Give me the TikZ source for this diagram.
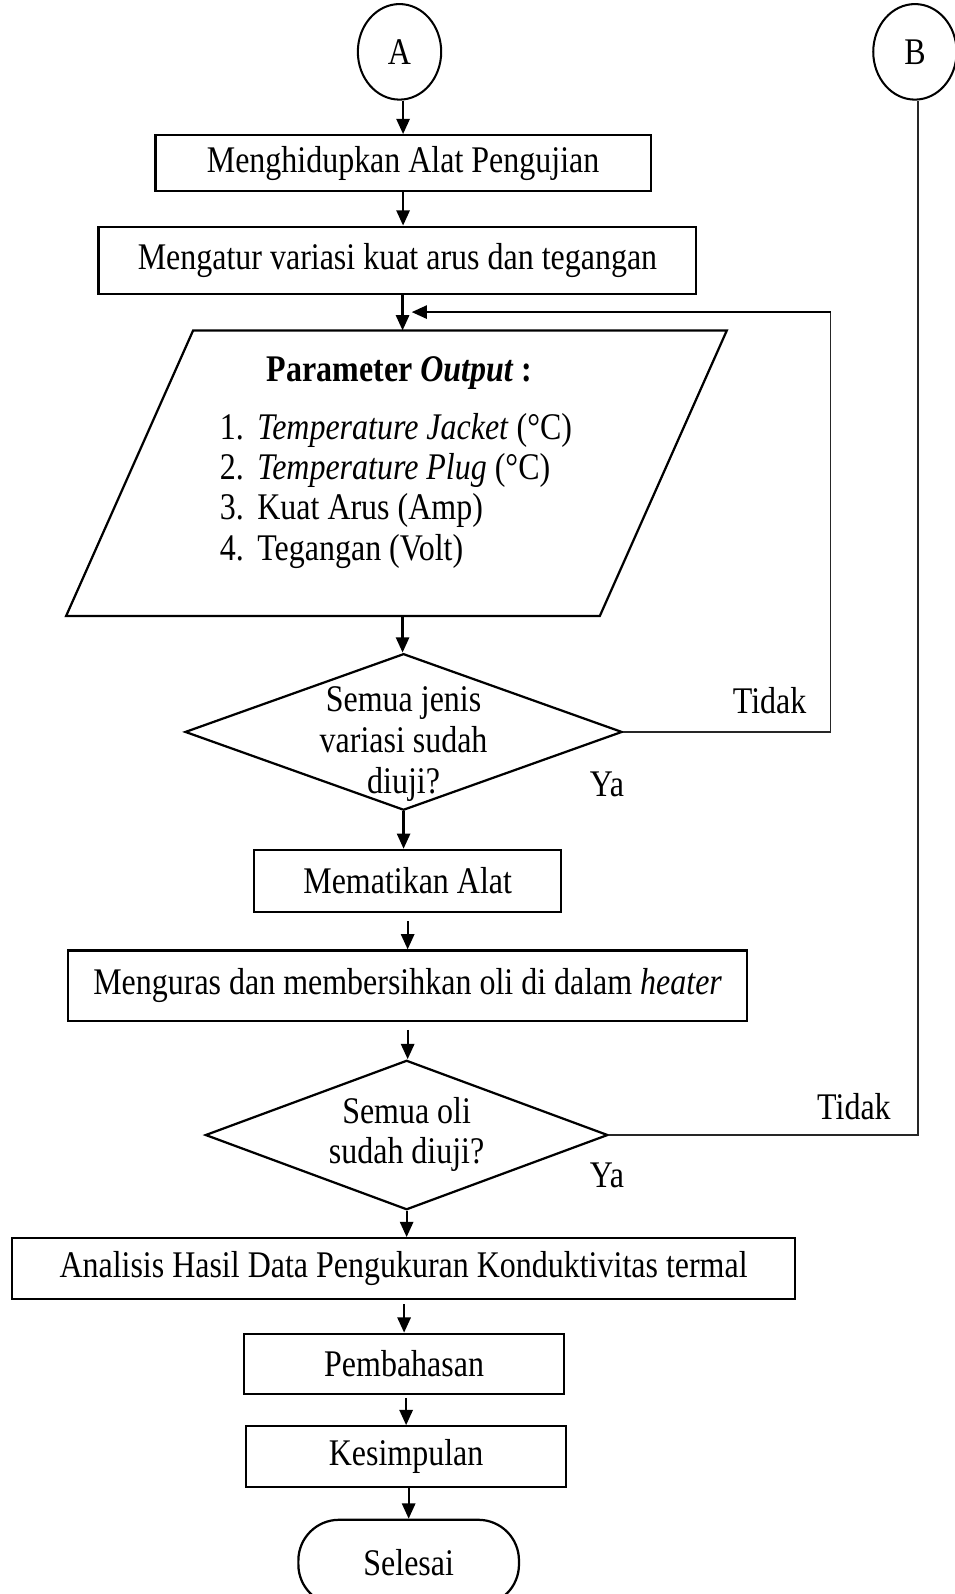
\documentclass[tikz,border=0pt]{standalone}
\usepackage{fontspec}
\setmainfont{Liberation Serif}[FakeStretch=0.85]
\usetikzlibrary{shapes.geometric,arrows.meta}

\tikzset{
  txt/.style={font=\fontsize{37}{40}\selectfont, inner sep=0pt},
  stepbox/.style={txt, draw, line width=2.2pt, rectangle, align=center},
  ell/.style={txt, draw, line width=2pt, ellipse, minimum width=82pt, minimum height=94pt},
  decision/.style={draw, line width=2.2pt, diamond, inner sep=0pt},
  terminal/.style={txt, draw, line width=2.2pt, rectangle, rounded corners=40pt},
  arr/.style={line width=2.2pt, -{Triangle[length=15pt,width=13pt]}},
  thinline/.style={line width=1.1pt, black!85},
  item/.style={txt, anchor=west, text height=0.7em, text depth=0.22em},
}

\begin{document}
\begin{tikzpicture}[x=1pt, y=-1pt]
\useasboundingbox (0,0) rectangle (939,1568);

% connectors A and B
\node[ell] (A) at (393,51) {A};
\node[ell] (B) at (900,51) {B};

% process steps
\node[stepbox, minimum width=487pt, minimum height=55pt] (box1) at (396.5,160.5) {Menghidupkan Alat Pengujian};
\node[stepbox, minimum width=588pt, minimum height=66pt] (box2) at (391,256) {Mengatur variasi kuat arus dan tegangan};

% output parallelogram
\coordinate (p1) at (190,325);
\coordinate (p2) at (715,325);
\coordinate (p3) at (590,606);
\coordinate (p4) at (65,606);
\draw[line width=2.2pt, line join=miter] (p1) -- (p2) -- (p3) -- (p4) -- cycle;
\coordinate (ptop) at (396,325);
\coordinate (pbot) at (396,606);
\node[txt] (ptitle) at (393,367) {\textbf{Parameter \textit{Output} :}};
\node[item] (n1) at (216,430) {1.};
\node[item] (n2) at (216,469) {2.};
\node[item] (n3) at (216,509) {3.};
\node[item] (n4) at (216,549) {4.};
\node[item] (l1) at (253,430) {\textit{Temperature Jacket} (°C)};
\node[item] (l2) at (253,469) {\textit{Temperature Plug} (°C)};
\node[item] (l3) at (253,509) {Kuat Arus (Amp)};
\node[item] (l4) at (253,549) {Tegangan (Volt)};

% first decision
\node[decision, minimum width=430pt, minimum height=154pt] (d1) at (397,720) {};
\node[txt, align=center] (d1t) at (397,732) {Semua jenis\\variasi sudah\\diuji?};
\node[txt] (tidak1) at (757,689) {Tidak};
\node[txt] (ya1) at (597,772) {Ya};

\node[stepbox, minimum width=302pt, minimum height=61pt] (box3) at (401,866.5) {Mematikan Alat};
\node[stepbox, minimum width=668pt, minimum height=69pt] (box4) at (401,969.5) {Menguras dan membersihkan oli di dalam \textit{heater}};

% second decision
\node[decision, minimum width=396pt, minimum height=147pt] (d2) at (400,1116.5) {};
\node[txt, align=center] (d2t) at (400,1116) {Semua oli\\sudah diuji?};
\node[txt] (tidak2) at (840,1089) {Tidak};
\node[txt] (ya2) at (597,1156) {Ya};

\node[stepbox, minimum width=770pt, minimum height=60pt] (box5) at (397,1248) {Analisis Hasil Data Pengukuran Konduktivitas termal};
\node[stepbox, minimum width=315pt, minimum height=59pt] (box6) at (397.5,1341.5) {Pembahasan};
\node[stepbox, minimum width=315pt, minimum height=60pt] (box7) at (399.5,1433) {Kesimpulan};
\node[terminal, minimum width=217pt, minimum height=84pt] (sel) at (402,1537) {Selesai};

% main flow
\draw[arr] (box1.north |- A.south) -- (box1.north);
\draw[arr] (box1.south) -- (box1.south |- box2.north);
\draw[arr] (ptop |- box2.south) -- (ptop);
\draw[arr] (pbot) -- (pbot |- d1.north);
\draw[arr] (d1.south) -- (d1.south |- box3.north);
\draw[arr, shorten <=8pt] (box4.north |- box3.south) -- (box4.north);
\draw[arr, shorten <=8pt] (box4.south) -- (box4.south |- d2.north);
\draw[arr] (d2.south) -- (d2.south |- box5.north);
\draw[arr, shorten <=4pt] (box6.north |- box5.south) -- (box6.north);
\draw[arr, shorten <=3pt] (box7.north |- box6.south) -- (box7.north);
\draw[arr] (sel.north |- box7.south) -- (sel.north);

% loop back from the first decision
\coordinate (c1) at (817,720);
\coordinate (c2) at (817,307);
\coordinate (c3) at (405,307);
\draw[thinline] (d1.east) -- (c1) -- (c2);
\draw[arr] (c2) -- (c3);

% line from B to the second decision
\coordinate (b1) at (903,1116.5);
\draw[thinline] (B.south -| b1) -- (b1) -- (d2.east);
\end{tikzpicture}
\end{document}
